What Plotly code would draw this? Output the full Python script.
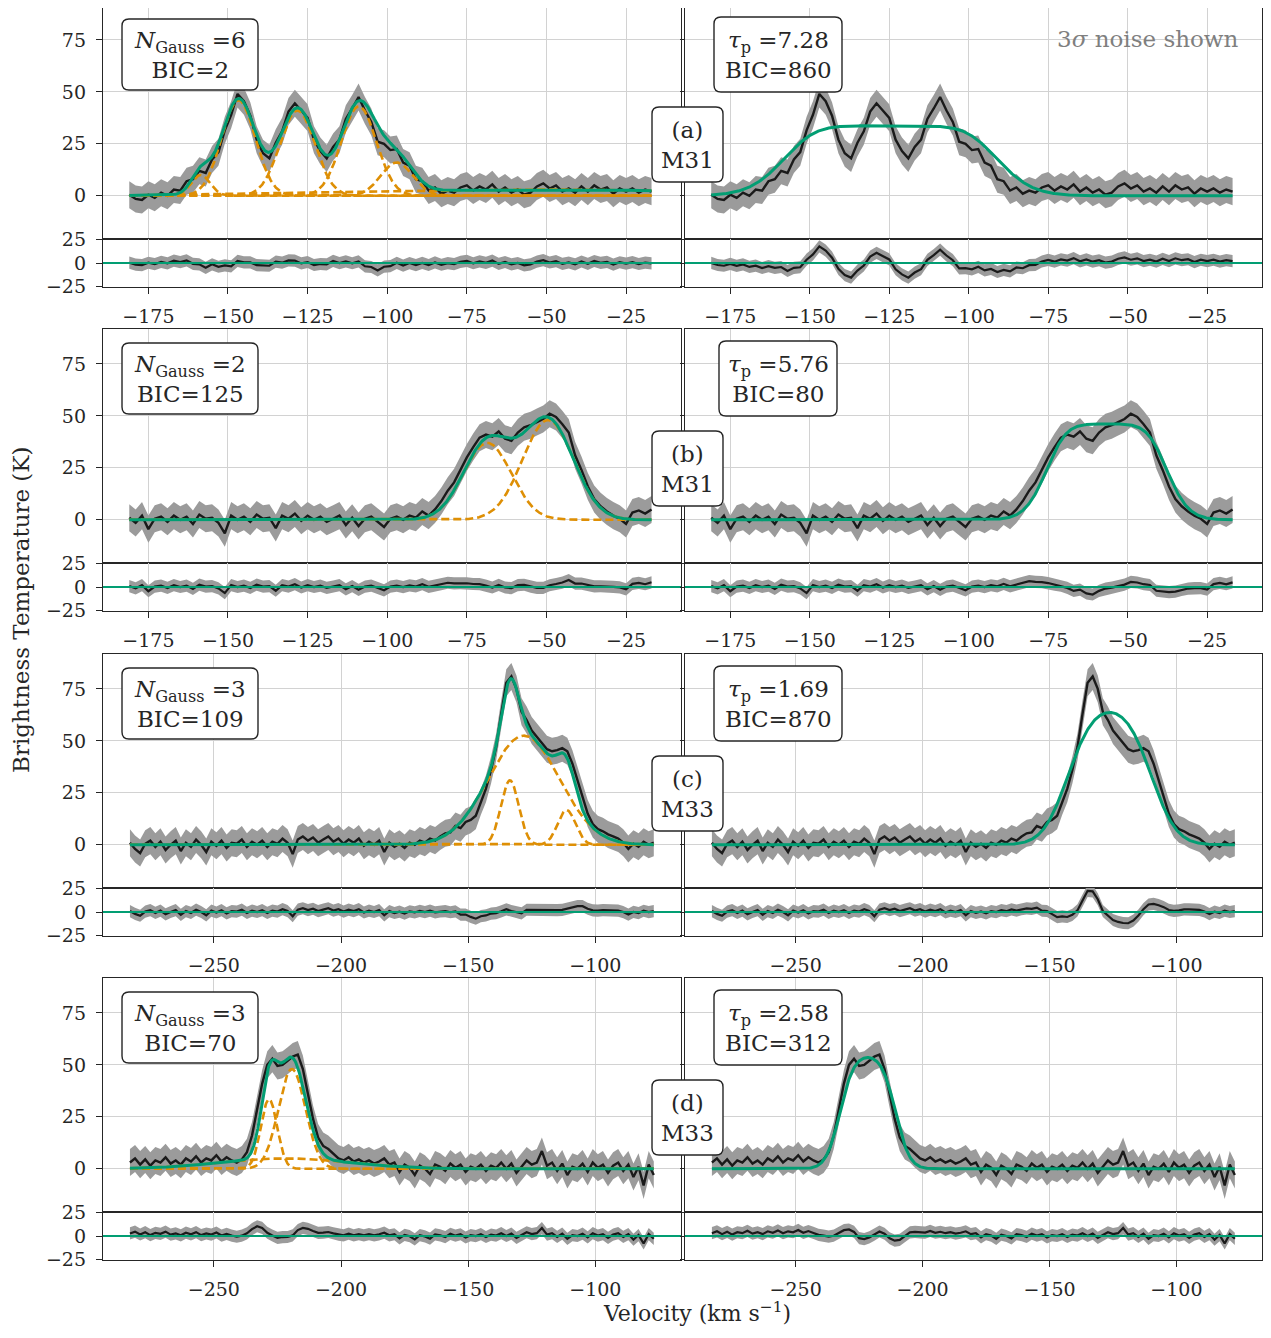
import numpy as np
import plotly.graph_objects as go

# The page body adds an 8px margin, so the figure is sized to fit inside it and all
# reference-image pixel positions are shifted by that offset.
PAGE_W, PAGE_H = 1271, 1338
OFF = 8
W, H = PAGE_W - 2 * OFF, PAGE_H - 2 * OFF
FONT = "DejaVu Serif"
TXT = "#262626"
GREEN = "#029E73"
ORANGE = "#DE8F05"
GRAY = "#9b9b9b"
BLACK = "#1a1a1a"
GRID = "#d2d2d2"

# ---------------- data ----------------
ROW_LABELS = ["a", "b", "c", "d"]
GALAXIES = ["M31", "M31", "M33", "M33"]
N_GAUSS = [6, 2, 3, 3]
BIC_GAUSS = [2, 125, 109, 70]
TAU_P = [7.28, 5.76, 1.69, 2.58]
BIC_TAU = [860, 80, 870, 312]

V_START = [-181.0, -181.0, -283.0, -283.0]   # first channel (km/s)
V_STEP = 2.0                                  # channel spacing of the read-off spectra

SPEC_A = [0.5, -1.5, -2.0, 0.5, -1.0, 1.5, 0.0, 3.0, 2.5, 7.0,
          8.0, 12.0, 11.0, 17.5, 21.0, 31.5, 39.0, 49.0, 45.5, 38.5,
          27.0, 20.5, 18.0, 25.5, 31.0, 40.5, 44.5, 41.0, 37.5, 27.0,
          21.5, 18.0, 23.5, 27.0, 37.0, 42.0, 47.5, 41.0, 35.5, 26.0,
          25.0, 22.0, 22.5, 16.0, 14.5, 8.0, 7.0, 2.5, 4.0, 1.0,
          2.5, 1.5, 4.0, 5.0, 2.5, 4.5, 3.0, 5.5, 2.0, 4.0,
          1.5, 3.0, 0.5, 1.5, 4.5, 6.0, 3.5, 5.0, 2.0, 3.5,
          1.5, 4.5, 2.0, 5.0, 3.0, 4.0, 1.0, 3.5, 2.0, 3.5,
          1.5, 3.0, 2.0]
SPEC_B = [1.0, -1.5, 2.0, -4.5, 0.5, 1.5, -1.0, 2.0, 0.0, 1.5,
          -2.0, 2.5, 0.5, 1.0, -1.5, -6.5, 2.0, 0.0, 1.5, -1.0,
          2.5, 0.5, 1.0, -4.0, 2.0, 0.5, 3.0, -0.5, 2.0, 0.0,
          1.5, -1.0, 0.5, 2.0, -2.5, 1.0, -3.0, 0.5, 1.5, -1.0,
          -3.5, 0.5, 1.5, 0.0, 2.0, 1.0, 4.0, 2.0, 5.0, 9.0,
          14.0, 18.0, 24.0, 30.0, 35.0, 39.5, 41.0, 40.0, 42.5, 39.0,
          38.0, 42.0, 44.5, 45.5, 47.0, 48.5, 51.0, 49.5, 46.0, 42.0,
          31.0, 24.0, 16.0, 10.0, 6.5, 4.0, 2.0, 0.5, -2.0, 3.5,
          4.5, 3.0, 5.0]
SPEC_C = [1.0, -2.0, -4.0, 0.5, 2.0, -1.0, 1.5, -2.5, 0.0, 2.0,
          -3.0, 1.0, -1.0, 2.5, 0.0, -3.5, 1.5, -0.5, 2.0, -1.5,
          1.0, 0.5, 2.5, -1.0, 1.5, 0.0, 2.0, -1.0, 1.5, 0.5,
          3.0, 1.0, -4.5, 2.5, 4.0, 2.0, 3.5, 1.0, 2.5, 4.0,
          1.5, 3.0, 0.5, 2.5, 1.0, 3.0, -0.5, 1.5, 0.0, 2.0,
          -3.5, 1.0, -1.0, 0.5, -1.5, 1.0, 0.0, 2.0, 1.0, 3.0,
          2.0, 4.0, 5.5, 6.0, 9.0, 8.0, 11.0, 12.0, 14.0, 21.0,
          27.0, 36.0, 47.0, 63.0, 78.0, 81.0, 75.0, 64.0, 60.0, 55.0,
          52.0, 49.0, 46.0, 45.0, 45.5, 46.5, 45.0, 39.0, 31.0, 23.0,
          15.0, 10.0, 7.5, 6.5, 5.0, 4.0, 3.0, 1.0, -2.0, 0.5,
          -1.0, 1.5, 0.0, 1.0]
SPEC_D = [3.0, 5.0, 2.0, 4.5, 1.5, 4.0, 3.0, 5.5, 2.5, 4.0,
          2.0, 5.0, 3.5, 6.0, 3.0, 5.0, 4.0, 6.5, 3.5, 5.5,
          4.0, 3.0, 4.5, 8.0, 16.0, 28.0, 41.0, 50.0, 53.0, 49.5,
          50.0, 52.0, 54.0, 55.0, 48.0, 36.0, 24.0, 15.0, 11.0, 9.5,
          7.0, 5.0, 4.0, 5.5, 3.5, 4.5, 3.0, 4.0, 2.5, 3.5,
          5.0, 2.0, 3.0, -1.5, 2.0, 0.5, -3.0, 1.5, 0.0, -2.5,
          2.0, 1.0, -1.0, 2.5, 0.5, 2.0, -1.5, 1.0, 0.0, 2.0,
          -1.0, 1.5, 0.5, 3.0, 0.0, 2.5, -2.0, 1.0, 4.0, 2.0,
          3.0, 8.5, 1.5, 3.0, -1.0, 2.5, -3.0, 1.0, 0.0, 2.5,
          -1.5, 3.0, 0.5, 2.0, -2.0, 1.5, 3.0, -1.0, 2.0, -4.0,
          1.0, -8.0, 2.0, -3.0]
SPECTRA = [SPEC_A, SPEC_B, SPEC_C, SPEC_D]
NOISE_3SIGMA = [6.5, 6.5, 6.5, 6.5]

# Gaussian decomposition (amplitude K, centre km/s, sigma km/s)
GAUSS_A = [(10.0, -158.6, 3.0), (46.0, -146.7, 5.3), (41.0, -128.2, 5.5),
           (43.0, -108.9, 5.5), (16.0, -97.0, 5.0), (3.0, -52.0, 55.0)]
GAUSS_B = [(37.0, -68.6, 7.5), (48.0, -49.5, 8.0)]
GAUSS_C = [(31.0, -133.6, 3.5), (52.5, -128.1, 14.0), (16.7, -111.3, 3.5)]
GAUSS_D = [(33.5, -228.3, 3.2), (48.0, -219.3, 5.3), (5.0, -222.0, 25.0)]
GAUSS = [GAUSS_A, GAUSS_B, GAUSS_C, GAUSS_D]

# Opacity model: (spin temperature K, centre km/s, sigma km/s); peak opacity from TAU_P
TAU_MODEL = [(33.72, -124.6, 15.7), (46.3, -56.6, 9.3), (78.1, -126.3, 11.0), (57.9, -221.6, 6.54)]

XTICKS = [[-175, -150, -125, -100, -75, -50, -25]] * 2 + [[-250, -200, -150, -100]] * 2
X_RANGES = [[-189.25, -7.75], [-189.25, -7.75], [-293.6, -66.3], [-293.6, -66.3]]
Y_MAIN_RANGE = [-20.8, 91.8]
Y_RES_RANGE = [-25.6, 25.6]
Y_MAIN_TICKS = [0, 25, 50, 75]
Y_RES_TICKS = [-25, 0, 25]

# ---------------- geometry (reference-image pixels) ----------------
COL_X = [(103, 681), (685, 1262)]
ROW_Y = [(5, 239, 287), (329, 563, 611), (654, 888, 936), (978, 1212, 1260)]


def PX(x):
    return (x - OFF) / W


def PY(y):
    return 1 - (y - OFF) / H


def gauss(v, a, c, s):
    return a * np.exp(-0.5 * ((v - c) / s) ** 2)


def tau_model(v, ts, tau, c, s):
    return ts * (1.0 - np.exp(-tau * np.exp(-0.5 * ((v - c) / s) ** 2)))


def ax_names(idx):
    if idx == 1:
        return "xaxis", "yaxis", "x", "y"
    return f"xaxis{idx}", f"yaxis{idx}", f"x{idx}", f"y{idx}"


fig = go.Figure()
layout = {}
shapes = []
annotations = []


def rbox(x0, y0, x1, y1, r=7):
    def P(x, y):
        return f"{PX(x):.5f},{PY(y):.5f}"
    return ("M" + P(x0 + r, y0) + " L" + P(x1 - r, y0) + " Q" + P(x1, y0) + " " + P(x1, y0 + r) +
            " L" + P(x1, y1 - r) + " Q" + P(x1, y1) + " " + P(x1 - r, y1) +
            " L" + P(x0 + r, y1) + " Q" + P(x0, y1) + " " + P(x0, y1 - r) +
            " L" + P(x0, y0 + r) + " Q" + P(x0, y0) + " " + P(x0 + r, y0) + " Z")


def add_box(x0, y0, x1, y1, text, size=23):
    shapes.append(dict(type="path", xref="paper", yref="paper", path=rbox(x0, y0, x1, y1),
                       fillcolor="white", line=dict(color=TXT, width=1.4), layer="above"))
    annotations.append(dict(x=PX((x0 + x1) / 2), y=PY((y0 + y1) / 2), xref="paper", yref="paper",
                            text=text, showarrow=False, xanchor="center", yanchor="middle",
                            align="center", font=dict(family=FONT, size=size, color=TXT)))


tickfont = dict(family=FONT, size=19, color=TXT)

for r in range(4):
    v = V_START[r] + V_STEP * np.arange(len(SPECTRA[r]))
    data = np.array(SPECTRA[r])
    vf = np.linspace(v[0], v[-1], 800)
    n3 = NOISE_3SIGMA[r]
    gmod_f = sum(gauss(vf, *g) for g in GAUSS[r])
    gmod_d = sum(gauss(v, *g) for g in GAUSS[r])
    ts, c0, s0 = TAU_MODEL[r]
    tmod_f = tau_model(vf, ts, TAU_P[r], c0, s0)
    tmod_d = tau_model(v, ts, TAU_P[r], c0, s0)
    yt, ym, yb = ROW_Y[r]
    for c in range(2):
        k = 1 + 4 * r + 2 * c
        x0, x1 = COL_X[c]
        model_f = gmod_f if c == 0 else tmod_f
        model_d = gmod_d if c == 0 else tmod_d
        resid = data - model_d
        for j in range(2):
            idx = k + j
            xn, yn, xr, yr = ax_names(idx)
            top, bot = (yt, ym) if j == 0 else (ym, yb)
            yrange = list(Y_MAIN_RANGE if j == 0 else Y_RES_RANGE)
            if top < OFF:
                # keep the data scale when the panel top is clipped by the page margin
                kpp = (yrange[1] - yrange[0]) / (bot - top)
                yrange[1] -= (OFF - top) * kpp
                top = OFF
            layout[xn] = dict(domain=[PX(x0), PX(x1)], anchor=yr, range=X_RANGES[r],
                              tickvals=XTICKS[r], showticklabels=(j == 1), automargin=False,
                              ticks="outside" if j == 1 else "", ticklen=6, tickwidth=1.3,
                              tickcolor=TXT, showline=True, mirror=True, linecolor=TXT,
                              linewidth=1.4, showgrid=True, gridcolor=GRID, gridwidth=1.3,
                              zeroline=False, tickfont=tickfont, ticklabelstandoff=6)
            layout[yn] = dict(domain=[PY(bot), PY(top)], anchor=xr, automargin=False,
                              range=yrange,
                              tickvals=Y_MAIN_TICKS if j == 0 else Y_RES_TICKS,
                              showticklabels=(c == 0), ticks="outside",
                              ticklen=6 if c == 0 else 4, tickwidth=1.3, tickcolor=TXT,
                              showline=True, mirror=True, linecolor=TXT, linewidth=1.4,
                              showgrid=(j == 0), gridcolor=GRID, gridwidth=1.3, zeroline=False,
                              tickfont=tickfont, ticklabelstandoff=6)
            if j == 0:
                yv = data
                fig.add_trace(go.Scatter(x=np.concatenate([v, v[::-1]]),
                                         y=np.concatenate([yv + n3, (yv - n3)[::-1]]),
                                         fill="toself", fillcolor=GRAY, line=dict(width=0),
                                         mode="lines", xaxis=xr, yaxis=yr, hoverinfo="skip"))
                fig.add_trace(go.Scatter(x=v, y=yv, mode="lines", line=dict(color=BLACK, width=2.4),
                                         xaxis=xr, yaxis=yr))
                if c == 0:
                    for g in GAUSS[r]:
                        fig.add_trace(go.Scatter(x=vf, y=gauss(vf, *g), mode="lines",
                                                 line=dict(color=ORANGE, width=2.6, dash="8px,4px"),
                                                 xaxis=xr, yaxis=yr))
                fig.add_trace(go.Scatter(x=vf, y=model_f, mode="lines",
                                         line=dict(color=GREEN, width=3.0), xaxis=xr, yaxis=yr))
            else:
                fig.add_trace(go.Scatter(x=np.concatenate([v, v[::-1]]),
                                         y=np.concatenate([resid + n3, (resid - n3)[::-1]]),
                                         fill="toself", fillcolor=GRAY, line=dict(width=0),
                                         mode="lines", xaxis=xr, yaxis=yr, hoverinfo="skip"))
                fig.add_trace(go.Scatter(x=v, y=resid, mode="lines", line=dict(color=BLACK, width=2.2),
                                         xaxis=xr, yaxis=yr))
                fig.add_trace(go.Scatter(x=[X_RANGES[r][0], X_RANGES[r][1]], y=[0, 0], mode="lines",
                                         line=dict(color=GREEN, width=2.2), xaxis=xr, yaxis=yr))

    # boxes
    add_box(122, yt + 14, 258, yt + 85,
            f"<i>N</i><sub>Gauss</sub> ={N_GAUSS[r]}<br>BIC={BIC_GAUSS[r]}")
    rx0, rx1 = ((719, 837) if r == 1 else (714, 842))
    add_box(rx0, yt + 12, rx1, yt + 87,
            f"<i>τ</i><sub>p</sub> ={TAU_P[r]:.2f}<br>BIC={BIC_TAU[r]}")
    add_box(652, yt + 102, 723, yt + 177, f"({ROW_LABELS[r]})<br>{GALAXIES[r]}")

annotations.append(dict(x=PX(1241), y=PY(39), xref="paper", yref="paper",
                        text="3<i>σ</i> noise shown", showarrow=False, xanchor="right",
                        yanchor="middle", font=dict(family=FONT, size=23, color="#7f7f7f")))
annotations.append(dict(x=PX(21), y=PY(610), xref="paper", yref="paper",
                        text="Brightness Temperature (K)", showarrow=False, textangle=-90,
                        xanchor="center", yanchor="middle", font=dict(family=FONT, size=23, color=TXT)))
annotations.append(dict(x=PX(697), y=PY(1312), xref="paper", yref="paper",
                        text="Velocity (km s<sup>−1</sup>)", showarrow=False,
                        xanchor="center", yanchor="middle", font=dict(family=FONT, size=22, color=TXT)))

fig.update_layout(width=W, height=H, margin=dict(l=0, r=0, t=0, b=0, pad=0),
                  paper_bgcolor="white", plot_bgcolor="white", showlegend=False,
                  shapes=shapes, annotations=annotations, **layout)
fig.write_html("out.html")
